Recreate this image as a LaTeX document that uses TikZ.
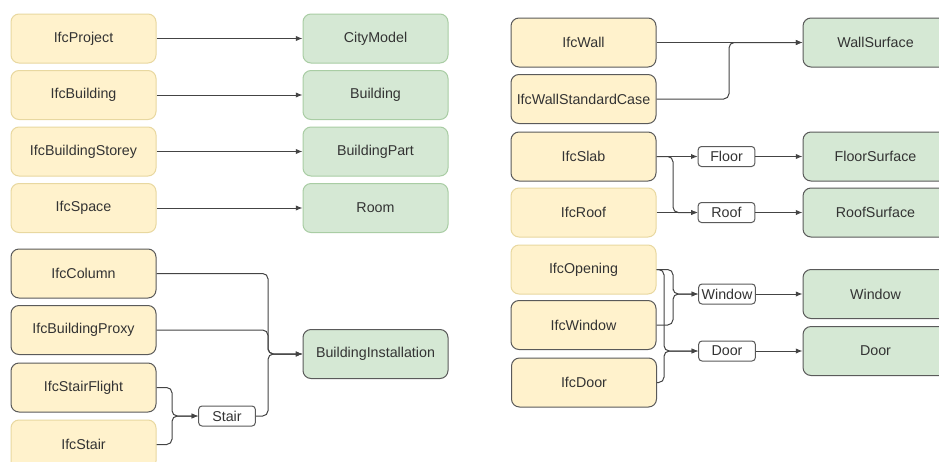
\documentclass[tikz,border=0pt]{standalone}
\usepackage{fontspec}
\setmainfont{Liberation Sans}
\usetikzlibrary{arrows.meta}
\definecolor{yfill}{HTML}{FFF2CC}
\definecolor{gfill}{HTML}{D5E8D4}
\definecolor{ylight}{HTML}{E8D8A0}
\definecolor{glight}{HTML}{A9CDA4}
\definecolor{dborder}{HTML}{5A5A5A}
\definecolor{txt}{HTML}{333333}
\definecolor{lne}{HTML}{444444}
\tikzset{
  box/.style={rectangle, rounded corners=6pt, minimum width=108.75pt, minimum height=36.75pt,
    inner sep=0pt, line width=0.75pt, text=txt, font=\fontsize{10.7pt}{12pt}\selectfont},
  ybox/.style={box, fill=yfill, draw=dborder},
  yboxl/.style={box, fill=yfill, draw=ylight},
  gbox/.style={box, fill=gfill, draw=dborder},
  gboxl/.style={box, fill=gfill, draw=glight},
  lbl/.style={rectangle, rounded corners=2.5pt, minimum width=42.5pt, minimum height=15pt,
    inner sep=1pt, fill=white, draw=dborder, line width=0.75pt, text=txt, font=\fontsize{10.7pt}{12pt}\selectfont},
  conn/.style={draw=lne, line width=0.75pt, rounded corners=4pt, -{Latex[length=5pt,width=4pt]}}
}
\begin{document}
\begin{tikzpicture}[x=0.75pt,y=-0.75pt]
\useasboundingbox (0,0) rectangle (939,461);
\fill[white] (0,0) rectangle (939,461);
% left top
\node[yboxl] (proj) at (83.5,38.5) {IfcProject};
\node[yboxl] (bldg) at (83.5,95) {IfcBuilding};
\node[yboxl] (stor) at (83.5,151.5) {IfcBuildingStorey};
\node[yboxl] (spac) at (83.5,208) {IfcSpace};
\node[gboxl] (city) at (375.5,38.5) {CityModel};
\node[gboxl] (gbld) at (375.5,95) {Building};
\node[gboxl] (gprt) at (375.5,151.5) {BuildingPart};
\node[gboxl] (room) at (375.5,208) {Room};
\draw[conn] (proj.east) -- (city.west);
\draw[conn] (bldg.east) -- (gbld.west);
\draw[conn] (stor.east) -- (gprt.west);
\draw[conn] (spac.east) -- (room.west);
% left bottom
\node[ybox] (col) at (83.5,273.5) {IfcColumn};
\node[ybox] (prox) at (83.5,330) {IfcBuildingProxy};
\node[ybox] (sf) at (83.5,387.5) {IfcStairFlight};
\node[yboxl] (st) at (83.5,444.5) {IfcStair};
\node[gbox] (bi) at (375.5,354) {BuildingInstallation};
\node[lbl] (stairl) at (227,416) {Stair};
\draw[conn] (col.east) -| (268,320) |- (bi.west);
\draw[conn] (prox.east) -| (268,345) |- (bi.west);
\draw[conn] (stairl.east) -| (268,380) |- (bi.west);
\draw[conn] (sf.east) -| (172,405) |- (stairl.west);
\draw[conn] (st.east) -| (172,430) |- (stairl.west);
% right
\node[ybox] (wall) at (583.5,42.5) {IfcWall};
\node[ybox] (wsc) at (583.5,99) {IfcWallStandardCase};
\node[ybox] (slab) at (583.5,156.5) {IfcSlab};
\node[yboxl] (roof) at (583.5,212.5) {IfcRoof};
\node[yboxl] (open) at (583.5,269.5) {IfcOpening};
\node[ybox] (win) at (583.5,325) {IfcWindow};
\node[ybox] (door) at (584,382.5) {IfcDoor};
\node[gbox] (wsurf) at (875.5,42.5) {WallSurface};
\node[gbox] (fsurf) at (875.5,156.5) {FloorSurface};
\node[gbox] (rsurf) at (875.5,212.5) {RoofSurface};
\node[gbox] (gwin) at (875.5,294) {Window};
\node[gbox] (gdoor) at (875.5,351) {Door};
\node[lbl] (floorl) at (726.5,156.5) {Floor};
\node[lbl] (roofl) at (726.5,212.5) {Roof};
\node[lbl] (winl) at (727,294) {Window};
\node[lbl] (doorl) at (727,351) {Door};
\draw[conn] (wall.east) -- (wsurf.west);
\draw[conn] (wsc.east) -| (729,70) |- (wsurf.west);
\draw[conn] (slab.east) -- (floorl.west);
\draw[conn] (slab.east) -| (673,190) |- (roofl.west);
\draw[conn] (roof.east) -- (roofl.west);
\draw[conn] (floorl.east) -- (fsurf.west);
\draw[conn] (roofl.east) -- (rsurf.west);
\draw[conn] (open.east) -| (673,285) |- (winl.west);
\draw[conn] (win.east) -| (673,305) |- (winl.west);
\draw[conn] (open.east) -| (664,330) |- (doorl.west);
\draw[conn] (door.east) -| (664,370) |- (doorl.west);
\draw[conn] (winl.east) -- (gwin.west);
\draw[conn] (doorl.east) -- (gdoor.west);
\end{tikzpicture}
\end{document}
